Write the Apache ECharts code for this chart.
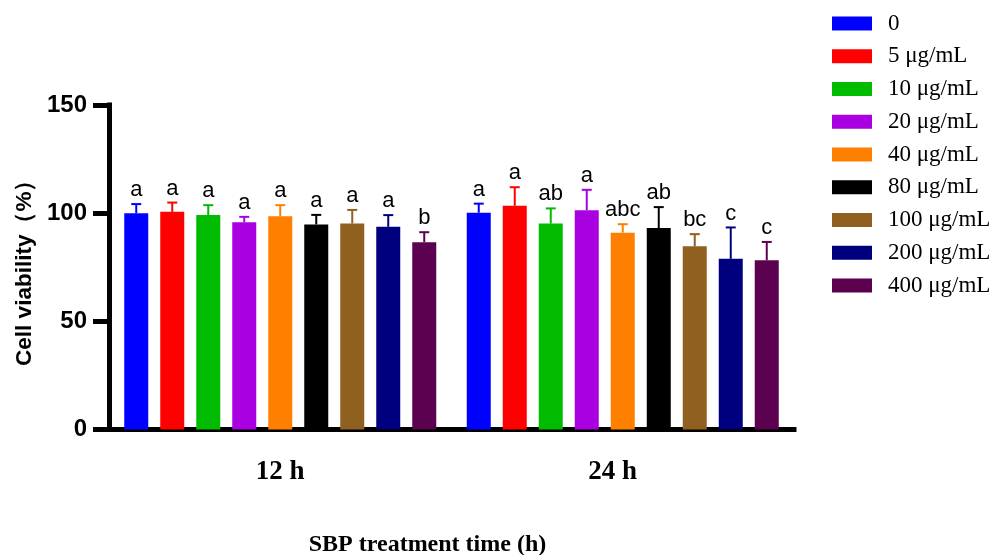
<!DOCTYPE html>
<html>
<head>
<meta charset="utf-8">
<script src="https://cdn.jsdelivr.net/npm/echarts@6/dist/echarts.min.js"></script>
<style>html,body{margin:0;padding:0;background:#fff;}#chart{width:993px;height:555px;}</style>
</head>
<body>
<div id="chart"></div>
<script>
const categories = ['12 h', '24 h'];
const concentrations = ['0', '5 μg/mL', '10 μg/mL', '20 μg/mL', '40 μg/mL', '80 μg/mL', '100 μg/mL', '200 μg/mL', '400 μg/mL'];
const means12 = [100.0, 100.6, 99.1, 95.8, 98.6, 94.8, 95.2, 93.7, 86.6];
const sd12 = [4.2, 4.3, 4.6, 2.5, 5.1, 4.4, 6.3, 5.4, 4.6];
const means24 = [100.2, 103.4, 95.2, 101.4, 91.0, 93.1, 84.7, 78.9, 78.2];
const sd24 = [4.2, 8.6, 7.0, 9.4, 3.9, 9.7, 5.6, 14.5, 8.5];
const letters12 = ['a', 'a', 'a', 'a', 'a', 'a', 'a', 'a', 'b'];
const letters24 = ['a', 'a', 'ab', 'a', 'abc', 'ab', 'bc', 'c', 'c'];
const yTicks = [0, 50, 100, 150];
const colors = ['#0000ff', '#ff0000', '#00bb00', '#a800e0', '#ff8000', '#000000', '#8f6020', '#00007f', '#5c0050'];

const BAR_W = 24, STEP = 36;
const means = [means12, means24];
const sds = [sd12, sd24];
const letters = [letters12, letters24];

const barSeries = concentrations.map((name, s) => ({
  name: name,
  type: 'bar',
  barWidth: BAR_W,
  barGap: '50%',
  itemStyle: { color: colors[s] },
  data: [means12[s], means24[s]]
}));

const errData = [];
concentrations.forEach((n, s) => {
  categories.forEach((c, ci) => {
    errData.push([ci, means[ci][s] + sds[ci][s], s, means[ci][s]]);
  });
});

const errSeries = {
  name: 'err',
  type: 'custom',
  z: 5,
  encode: { x: 0, y: 1 },
  data: errData,
  renderItem: function (params, api) {
    const ci = api.value(0);
    const top = api.value(1);
    const s = api.value(2);
    const mean = api.value(3);
    const pBase = api.coord([ci, mean]);
    const pTop = api.coord([ci, top]);
    const x = pBase[0] + (s - 4) * STEP;
    const col = colors[s];
    return {
      type: 'group',
      children: [
        { type: 'line', shape: { x1: x, y1: pBase[1], x2: x, y2: pTop[1] }, style: { stroke: col, lineWidth: 2 } },
        { type: 'line', shape: { x1: x - 5, y1: pTop[1], x2: x + 5, y2: pTop[1] }, style: { stroke: col, lineWidth: 2 } },
        { type: 'text', style: { text: letters[ci][s], x: x, y: pTop[1] - 3, align: 'center', verticalAlign: 'bottom', fontFamily: 'Liberation Sans, Arial, sans-serif', fontSize: 22, fill: '#000' } }
      ]
    };
  }
};

const chart = echarts.init(document.getElementById('chart'));
chart.setOption({
  animation: false,
  backgroundColor: '#fff',
  grid: { left: 109, right: 199, top: 105, bottom: 125.5, containLabel: false, outerBoundsMode: 'none' },
  legend: {
    data: concentrations,
    orient: 'vertical',
    left: 827,
    top: 7,
    itemWidth: 40,
    itemHeight: 14,
    itemGap: 9.75,
    icon: 'rect',
    textStyle: { fontFamily: 'Liberation Serif, Times New Roman, serif', fontSize: 23, lineHeight: 22, color: '#000', padding: [0, 0, 0, 11] }
  },
  xAxis: {
    type: 'category',
    data: [categories[0], { value: categories[1], textStyle: { padding: [0, 20, 0, 0] } }],
    name: 'SBP treatment time (h)',
    nameLocation: 'middle',
    nameGap: 103,
    nameTextStyle: { fontFamily: 'Liberation Serif, Times New Roman, serif', fontWeight: 'bold', fontSize: 24, color: '#000', padding: [0, 48, 0, 0] },
    axisLine: { lineStyle: { color: '#000', width: 5, cap: 'square' } },
    axisTick: { show: false },
    axisLabel: { margin: 29, fontFamily: 'Liberation Serif, Times New Roman, serif', fontWeight: 'bold', fontSize: 27, color: '#000' }
  },
  yAxis: {
    type: 'value',
    min: 0,
    max: 150,
    interval: 50,
    name: 'Cell viability（%）',
    nameLocation: 'middle',
    nameGap: 72,
    nameTextStyle: { fontFamily: 'Liberation Sans, Arial, sans-serif', fontWeight: 'bold', fontSize: 22.5, color: '#000' },
    axisLine: { show: true, lineStyle: { color: '#000', width: 5, cap: 'square' } },
    axisTick: { show: true, length: 16, lineStyle: { color: '#000', width: 5 } },
    splitLine: { show: false },
    axisLabel: {
      margin: 22,
      fontFamily: 'Liberation Sans, Arial, sans-serif', fontWeight: 'bold', fontSize: 24, color: '#000',
      formatter: v => (yTicks.indexOf(v) >= 0 ? String(v) : '')
    }
  },
  series: barSeries.concat([errSeries])
});
</script>
</body>
</html>
